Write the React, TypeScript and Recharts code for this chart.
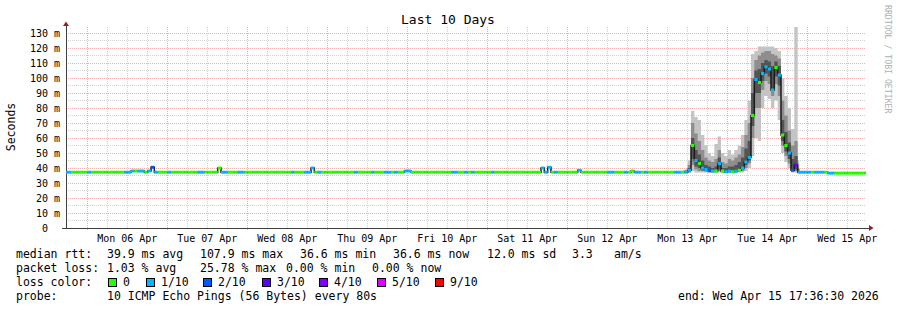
import React from "react";
import {
  ComposedChart,
  XAxis,
  YAxis,
  Area,
  Line,
  Scatter,
  ReferenceLine,
  ReferenceDot,
} from "recharts";

const MONO = "'DejaVu Sans Mono', monospace";

// x axis: hours since graph start (Sun 05 Apr 17:36:30), one sample per hour
const dayLabels = [
  "Mon 06 Apr",
  "Tue 07 Apr",
  "Wed 08 Apr",
  "Thu 09 Apr",
  "Fri 10 Apr",
  "Sat 11 Apr",
  "Sun 12 Apr",
  "Mon 13 Apr",
  "Tue 14 Apr",
  "Wed 15 Apr",
];
const firstMidnight = 6.39; // Mon 06 Apr 00:00
const yTicks = [0, 10, 20, 30, 40, 50, 60, 70, 80, 90, 100, 110, 120, 130];
const yTop = 134.7;

// median rtt in ms
const medianMs = [
  37.2, 37.2, 37.2, 37.2, 37.2, 37.2, 37.2, 37.2, 37.2, 37.2, 37.2, 37.2, 37.2, 37.2, 37.2, 37.2, 37.2, 37.2, 37.2, 37.2, 38, 38, 38, 38,
  37.2, 38, 40.5, 37.2, 37.2, 37.2, 37.2, 37.2, 37.2, 37.2, 37.2, 37.2, 37.2, 37.2, 37.2, 37.2, 37.2, 37.2, 37.2, 37.2, 37.2, 37.2, 40, 37.2,
  37.2, 37.2, 37.2, 37.2, 37.2, 37.2, 37.2, 37.2, 37.2, 37.2, 37.2, 37.2, 37.2, 37.2, 37.2, 37.2, 37.2, 37.2, 37.2, 37.2, 37.2, 37.2, 37.2, 37.2,
  37.2, 37.2, 40, 37.2, 37.2, 37.2, 37.2, 37.2, 37.2, 37.2, 37.2, 37.2, 37.2, 37.2, 37.2, 37.2, 37.2, 37.2, 37.2, 37.2, 37.2, 37.2, 37.2, 37.2,
  37.2, 37.2, 37.2, 37.2, 37.2, 37.2, 38, 38, 37.2, 37.2, 37.2, 37.2, 37.2, 37.2, 37.2, 37.2, 37.2, 37.2, 37.2, 37.2, 37.2, 37.2, 37.2, 37.2,
  37.2, 37.2, 37.2, 37.2, 37.2, 37.2, 37.2, 37.2, 37.2, 37.2, 37.2, 37.2, 37.2, 37.2, 37.2, 37.2, 37.2, 37.2, 37.2, 37.2, 37.2, 37.2, 37.2, 40,
  37.2, 40.5, 37.2, 37.2, 37.2, 37.2, 37.2, 37.2, 37.2, 37.2, 38.5, 37.2, 37.2, 37.2, 37.2, 37.2, 37.2, 37.2, 37.2, 37.2, 37.2, 37.2, 37.2, 37.2,
  37.2, 37.2, 38, 37.2, 37.2, 37.2, 37.2, 37.2, 37.2, 37.2, 37.2, 37.2, 37.2, 37.2, 37.2, 37.2, 37.2, 37.2, 37.2, 38.5, 55, 45, 43, 40,
  39, 38.5, 38, 38, 43, 38, 37.5, 38, 37.5, 38, 38.5, 40, 44, 47, 75, 99, 97, 103, 107.5, 106, 92, 107, 102, 62,
  55, 50, 38.5, 42, 37.2, 37.2, 37.2, 37.2, 37.2, 37.2, 37.2, 37.2, 37.2, 36.6, 36.6, 36.6, 36.6, 36.6, 36.6, 36.6, 36.6, 36.6, 36.6, 36.6, 36.6,
];

// lost pings out of 10 for each sample
const lossTenths = [
  1, 1, 0, 0, 0, 0, 0, 1, 0, 0, 0, 0, 0, 0, 0, 0, 0, 0, 1, 1, 1, 0, 1, 1,
  0, 1, 2, 1, 0, 0, 0, 1, 0, 0, 0, 0, 0, 0, 0, 0, 1, 1, 0, 0, 0, 0, 0, 1,
  1, 0, 0, 0, 1, 1, 0, 0, 0, 0, 0, 0, 0, 0, 0, 0, 0, 0, 0, 0, 1, 0, 0, 0,
  1, 1, 1, 0, 1, 0, 0, 0, 0, 0, 0, 0, 0, 0, 0, 1, 0, 0, 0, 0, 1, 0, 0, 0,
  1, 1, 0, 1, 0, 0, 1, 1, 0, 0, 0, 0, 0, 0, 0, 0, 0, 0, 0, 0, 1, 1, 0, 0,
  1, 0, 1, 0, 0, 0, 0, 0, 1, 0, 0, 0, 0, 0, 0, 0, 0, 0, 0, 0, 0, 0, 0, 1,
  1, 1, 0, 1, 0, 0, 0, 0, 0, 0, 1, 0, 0, 0, 0, 0, 0, 0, 0, 1, 1, 0, 0, 0,
  1, 0, 0, 1, 1, 0, 1, 0, 0, 0, 0, 0, 0, 0, 0, 1, 1, 0, 1, 1, 0, 1, 0, 1,
  1, 2, 1, 0, 1, 0, 1, 1, 0, 1, 0, 1, 1, 1, 0, 1, 0, 1, 1, 1, 1, 0, 1, 0,
  0, 1, 2, 3, 1, 1, 1, 1, 0, 1, 1, 1, 0, 1, 1, 0, 0, 0, 0, 0, 0, 0, 0, 0, 0,
];

// ping spread ("smoke") during the Apr 13-14 episode, starting at hour 185
const smokeFrom = 185;
const smokeOuter = [
  [37, 38.5], [37, 39], [37, 45], [38, 78], [37, 74], [37, 72], [37, 62], [37, 55], [37, 50],
  [37, 48], [37, 56], [37, 61], [37, 50], [37, 48], [37, 52], [37, 49], [37, 52], [37, 55],
  [37, 62], [38, 72], [40, 85], [48, 116], [60, 118], [58, 121], [80, 121], [88, 121], [86, 121],
  [80, 121], [85, 120], [72, 118], [50, 100], [44, 88], [40, 80], [37, 66], [37, 134], [37, 45],
];
const smokeMid = [
  [37, 38], [37, 38.5], [37, 42], [42, 70], [39, 63], [38, 58], [38, 52], [37.5, 47], [37, 45],
  [37, 44], [37, 46], [38, 52], [37, 44], [37, 43], [37, 46], [37, 45], [37, 47], [37.5, 49],
  [38, 54], [40, 62], [43, 70], [60, 100], [80, 112], [80, 115], [92, 117], [98, 118], [96, 118],
  [88, 116], [96, 115], [88, 113], [55, 85], [48, 75], [43, 65], [38, 55], [38, 58], [37, 40],
];
const smokeInner = [
  [37, 38], [37, 38], [37.5, 40], [46, 60], [41, 52], [40, 49], [38.5, 45], [38, 42], [37.5, 41],
  [37.5, 40], [37.5, 41], [39, 47], [37.5, 40], [37.5, 40], [37.5, 41], [37.5, 41], [37.5, 42], [38, 44],
  [39, 47], [42, 53], [45, 58], [68, 90], [90, 105], [90, 106], [98, 110], [103, 112], [101, 111],
  [92, 108], [101, 111], [95, 108], [58, 72], [51, 64], [46, 57], [38, 46], [39, 48], [37, 39],
];

const lossSteps = [0, 1, 2, 3, 4, 5, 9];
const lossLabels = ["0", "1/10", "2/10", "3/10", "4/10", "5/10", "9/10"];
const lossColors = ["#26ff00", "#00b8ff", "#0059ff", "#5e00ff", "#7e00ff", "#dd00ff", "#ff0000"];

const lossColor = (loss: number) => {
  let c = lossColors[0];
  lossSteps.forEach((s, i) => {
    if (loss >= s) c = lossColors[i];
  });
  return c;
};

const rows = medianMs.map((median, h) => {
  const k = h - smokeFrom;
  const has = k >= 0 && k < smokeOuter.length;
  return {
    h,
    median,
    loss: lossTenths[h],
    outer: has ? smokeOuter[k] : undefined,
    mid: has ? smokeMid[k] : undefined,
    inner: has ? smokeInner[k] : undefined,
  };
});

const midnights = dayLabels.map((_, i) => firstMidnight + 24 * i);
const noons = midnights.map((m) => m + 12);
const sixHours: number[] = [];
for (let t = firstMidnight + 6; t < 240; t += 6) {
  if (!midnights.some((m) => Math.abs(m - t) < 0.01)) sixHours.push(t);
}
const fiveMs: number[] = [];
for (let v = 5; v <= 130; v += 5) fiveMs.push(v);

const GRID_MINOR = "#d2d2d2";
const GRID_MAJOR = "#f0b0b0";
const AXIS = "#404040";
const ARROW = "#9c2020";

const XTick = (props: any) => {
  const { x, y, payload } = props;
  const i = Math.round((payload.value - noons[0]) / 24);
  return (
    <text x={x} y={y + 14} textAnchor="middle" fontFamily={MONO} fontSize={10} fill="#000">
      {dayLabels[i]}
    </text>
  );
};

const YTick = (props: any) => {
  const { x, y, payload } = props;
  const v = payload.value;
  return (
    <text
      x={x - 6}
      y={y + 3.5}
      textAnchor="end"
      fontFamily={MONO}
      fontSize={10}
      fill="#000"
      xmlSpace="preserve"
      style={{ whiteSpace: "pre" }}
    >
      {v === 0 ? "0  " : `${v} m`}
    </text>
  );
};

// one median sample drawn as a short dash in its packet-loss colour
const LossDash = (props: any) => {
  const { cx, cy, payload } = props;
  if (cx == null || cy == null) return null;
  return <rect x={cx - 1.7} y={cy - 1.5} width={3.4} height={3} fill={lossColor(payload.loss)} />;
};

const ArrowRight = (props: any) => {
  const { cx, cy } = props;
  return <polygon points={`${cx - 2},${cy - 3} ${cx + 2.5},${cy} ${cx - 2},${cy + 3}`} fill={ARROW} />;
};

const ArrowUp = (props: any) => {
  const { cx, cy } = props;
  return <polygon points={`${cx - 3},${cy + 2} ${cx},${cy - 2.5} ${cx + 3},${cy + 2}`} fill={ARROW} />;
};

const legendRows = [
  { y: 258, parts: [[16, "median rtt:"], [107, "39.9 ms avg"], [200, "107.9 ms max"], [300, "36.6 ms min"], [393, "36.6 ms now"], [487, "12.0 ms sd"], [572, "3.3"], [614, "am/s"]] },
  { y: 272, parts: [[16, "packet loss:"], [107, "1.03 % avg"], [200, "25.78 % max"], [286, "0.00 % min"], [372, "0.00 % now"]] },
  { y: 286, parts: [[16, "loss color:"]] },
  { y: 300, parts: [[16, "probe:"], [107, "10 ICMP Echo Pings (56 Bytes) every 80s"], [678, "end: Wed Apr 15 17:36:30 2026"]] },
];
const swatchX = [108, 146, 203, 262, 319, 377, 435];

export default function App() {
  return (
    <div style={{ position: "absolute", left: 0, top: 0, width: 897, height: 310, background: "#fff" }}>
      <ComposedChart
        width={897}
        height={310}
        data={rows}
        margin={{ top: 26, right: 31, bottom: 62, left: 6 }}
      >
        <XAxis
          type="number"
          dataKey="h"
          domain={[0, 240]}
          ticks={noons}
          interval={0}
          allowDataOverflow
          axisLine={false}
          tickLine={false}
          tickSize={0}
          tickMargin={0}
          height={20}
          tick={XTick}
        />
        <YAxis
          type="number"
          domain={[0, yTop]}
          ticks={yTicks}
          interval={0}
          allowDataOverflow
          axisLine={false}
          tickLine={false}
          tickSize={0}
          tickMargin={0}
          width={60}
          tick={YTick}
        />

        {fiveMs.map((v) => (
          <ReferenceLine
            key={`y${v}`}
            y={v}
            zIndex={-10}
            stroke={v % 10 === 0 ? GRID_MAJOR : GRID_MINOR}
            strokeDasharray="1 1"
            shapeRendering="crispEdges"
          />
        ))}
        {sixHours.map((t) => (
          <ReferenceLine key={`x${t}`} x={t} zIndex={-10} stroke={GRID_MINOR} strokeDasharray="1 1" shapeRendering="crispEdges" />
        ))}
        {midnights.map((t) => (
          <ReferenceLine
            key={`m${t}`}
            segment={[{ x: t, y: -1.4 }, { x: t, y: yTop }]}
            ifOverflow="visible"
            zIndex={-10}
            stroke={GRID_MAJOR}
            strokeDasharray="1 1"
            shapeRendering="crispEdges"
          />
        ))}

        <Area dataKey="outer" type="step" stroke="none" fill="#c4c4c4" fillOpacity={1} isAnimationActive={false} />
        <Area dataKey="mid" type="step" stroke="none" fill="#8e8e8e" fillOpacity={1} isAnimationActive={false} />
        <Area dataKey="inner" type="step" stroke="none" fill="#545454" fillOpacity={1} isAnimationActive={false} />
        <Line dataKey="median" type="step" stroke="#1a1a1a" strokeWidth={1.5} dot={false} activeDot={false} isAnimationActive={false} />
        <Scatter dataKey="median" shape={LossDash} isAnimationActive={false} />

        <ReferenceLine
          segment={[{ x: -1.2, y: 0 }, { x: 240.9, y: 0 }]}
          ifOverflow="visible"
          stroke={AXIS}
          shapeRendering="crispEdges"
        />
        <ReferenceLine
          segment={[{ x: 0, y: 0 }, { x: 0, y: 134.5 }]}
          ifOverflow="visible"
          stroke={AXIS}
          shapeRendering="crispEdges"
        />
        <ReferenceDot x={241.5} y={0} ifOverflow="visible" shape={ArrowRight} />
        <ReferenceDot x={0} y={136} ifOverflow="visible" shape={ArrowUp} />
      </ComposedChart>

      <svg width={897} height={310} style={{ position: "absolute", left: 0, top: 0, pointerEvents: "none" }}>
        <text x={448} y={24} textAnchor="middle" fontFamily={MONO} fontSize={13} fill="#000">
          Last 10 Days
        </text>
        <text transform="translate(15,127) rotate(-90)" textAnchor="middle" fontFamily={MONO} fontSize={11.5} fill="#000">
          Seconds
        </text>
        <text transform="translate(885,5) rotate(90)" fontFamily={MONO} fontSize={8.2} fill="#b0b0b0">
          RRDTOOL / TOBI OETIKER
        </text>
        {legendRows.map((r) =>
          r.parts.map(([x, s]) => (
            <text key={`${r.y}-${x}`} x={x as number} y={r.y} fontFamily={MONO} fontSize={11.5} fill="#000">
              {s}
            </text>
          ))
        )}
        {lossLabels.map((l, i) => (
          <g key={l}>
            <rect x={swatchX[i] + 0.5} y={278.5} width={8} height={8} fill={lossColors[i]} stroke="#000" strokeWidth={1} />
            <text x={swatchX[i] + 15} y={286} fontFamily={MONO} fontSize={11.5} fill="#000">
              {l}
            </text>
          </g>
        ))}
      </svg>
    </div>
  );
}
